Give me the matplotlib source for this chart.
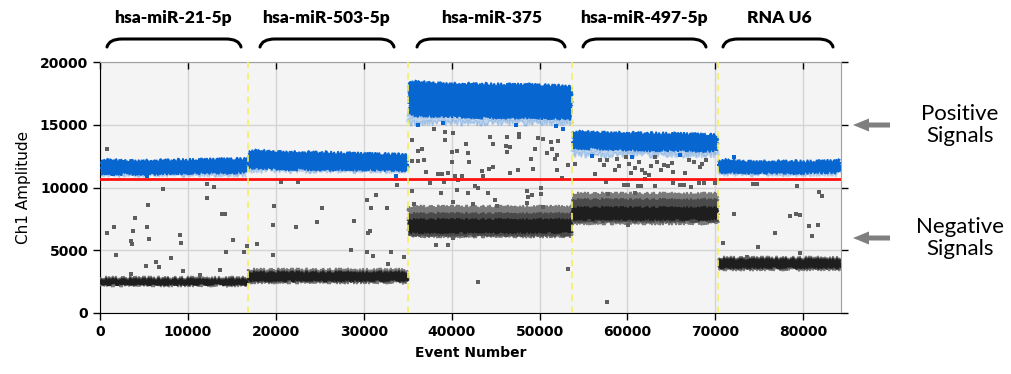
import matplotlib
matplotlib.use("Agg")
import matplotlib.pyplot as plt
from matplotlib.path import Path
from matplotlib.patches import PathPatch, FancyArrow
from matplotlib.transforms import IdentityTransform

# wells (targets) and where each one starts / ends in event number
well_names = ["hsa-miR-21-5p", "hsa-miR-503-5p", "hsa-miR-375", "hsa-miR-497-5p", "RNA U6"]
well_edges = [0, 16840, 35050, 53710, 70320, 84300]
threshold = 10650

# positive droplet band (outer edges), 5 knots per well
pos_hi = [[12150, 12100, 12150, 12200, 12250],
          [12900, 12800, 12750, 12650, 12600],
          [18400, 18250, 18200, 18150, 18050],
          [14400, 14350, 14300, 14250, 14150],
          [12150, 12050, 12050, 12050, 12100]]
pos_lo = [[11150, 11100, 11150, 11200, 11250],
          [11600, 11500, 11450, 11450, 11400],
          [15800, 15700, 15600, 15600, 15500],
          [13200, 13100, 13000, 13000, 12950],
          [11250, 11200, 11200, 11200, 11250]]
# sparse lower fringe of the positive band
pos_fringe = [11050, 11350, 15150, 12600, 11100]

# negative droplet band: outer (light), middle and dark core
neg_hi = [2800, 3400, 8450, 9500, 4350]
neg_lo = [2200, 2450, 6100, 7150, 3500]
mid_hi = [2720, 3300, 7900, 9000, 4280]
mid_lo = [2280, 2550, 6250, 7300, 3600]
core_hi = [2650, 3200, 7400, 8400, 4200]
core_lo = [2350, 2650, 6450, 7500, 3700]

# single droplets between/around the bands
gray_x = [760, 7200, 12140, 12970, 12140, 5430, 3980, 13850, 14200, 760, 1590, 5310, 3760,
          9140, 5540, 3490, 3600, 9250, 15100, 1860, 14300, 16420, 16690, 8040, 6370, 6750,
          5200, 9490, 13700, 3490, 11410,
          20600, 22570, 33800, 31400, 30350, 19800, 25300, 30800, 32660, 19690, 22300, 24690,
          28900, 30720, 30460, 17870, 19690, 28520, 30350, 31060, 33080, 34550, 32810,
          38010, 39260, 40200, 35500, 39260, 44380, 46280, 47720, 47720, 49880, 50370, 51320,
          52160, 41650, 44760, 46200, 46690, 51400, 36150, 36600, 40020, 40590, 41910, 46280,
          49500, 50830, 51970, 35540, 36150, 36830, 40020, 42020, 49000, 51780, 53220, 37100,
          38500, 38880, 39570, 40400, 41160, 43430, 44300, 44720, 43550, 46650, 47600, 49310,
          51970, 52540, 37550, 39180, 40770, 42670, 42980, 35540, 38800, 40660, 41910, 44190,
          48550, 49120, 48740, 50150, 50180, 44950, 45140, 40200, 42480, 48620, 50440, 35730,
          38230, 39560, 40200, 53220, 43050,
          56290, 56860, 57730, 57350, 58570, 59060, 59890, 60160, 60460, 60840, 61330, 61670,
          61970, 62740, 63120, 63420, 63870, 64180, 64640, 65120, 65200, 66530, 67020, 67590,
          68240, 68540, 68990, 54010, 58870, 62470, 57610, 59590, 60080, 61220, 61600, 61970,
          63120, 65200, 65960, 66410, 67290, 68120, 68690, 69940, 57800, 60840, 57650, 60080,
          74340, 74800, 79280, 81820, 82190, 72150, 78520, 79160, 79610, 80640, 81740, 80980,
          76810, 70930, 74910, 79650, 73660]
gray_y = [13040, 9850, 10250, 10020, 9190, 8580, 7570, 7890, 7890, 6400, 6830, 6830, 6560,
          6240, 5900, 5710, 5470, 5550, 5820, 4650, 4890, 4860, 5310, 4380, 4040, 3690,
          3720, 3370, 3450, 3130, 3030,
          10410, 10410, 10170, 9430, 8980, 8500, 8390, 8390, 8390, 6990, 6880, 7230,
          7310, 6560, 6350, 5520, 4650, 5050, 4860, 4510, 4860, 4460, 3880,
          14630, 14450, 14320, 13790, 13790, 14020, 14050, 14260, 14000, 13970, 13860, 13630,
          13680, 13470, 13440, 13310, 13200, 13040, 12930, 13040, 12850, 12930, 12720, 12850,
          13040, 12720, 12590, 12110, 12130, 12190, 12060, 12060, 12270, 12270, 11770, 11260,
          11050, 11050, 11180, 10940, 10940, 11310, 11450, 11610, 10920, 11180, 11420, 11500,
          11420, 10780, 10330, 10410, 10570, 10140, 9980, 9750, 9590, 9800, 9590, 9560,
          9720, 9400, 9270, 9460, 9980, 9000, 8530, 8820, 8690, 8740, 8470, 8690,
          5390, 5390, 5950, 3530, 2440,
          11080, 12190, 12190, 11790, 11390, 11710, 12410, 11870, 11180, 11530, 12030, 11390,
          11180, 11710, 12460, 12060, 11390, 11790, 11710, 11930, 11260, 11180, 12190, 12060,
          11660, 11870, 12190, 11850, 12250, 11000, 10410, 10170, 10170, 10140, 10140, 10650,
          10140, 10330, 10170, 10170, 10020, 10330, 10330, 10330, 9460, 9590, 850, 6990,
          10250, 10250, 10090, 9670, 9320, 7910, 7750, 7910, 7810, 6930, 6990, 6160,
          6400, 5580, 5230, 4760, 4490]

blue_x = [72150, 36200, 39000, 47300, 51900, 52700, 1500, 5300, 33700, 56000, 60500, 66000]
blue_y = [12460, 15000, 15100, 14950, 14900, 14700, 11050, 10950, 10950, 12500, 12450, 12550]

xticks = [0, 10000, 20000, 30000, 40000, 50000, 60000, 70000, 80000]
yticks = [0, 5000, 10000, 15000, 20000]


def band(ax, xs, lo, hi, color, z, alpha=1.0, rough=(2.0, 3.0, 2.0)):
    poly = ax.fill(list(xs) + list(xs[::-1]), list(hi) + list(lo[::-1]),
                   color=color, lw=1.2, alpha=alpha, zorder=z)[0]
    poly.set_sketch_params(*rough)
    return poly


W, H = 1012, 374
fig = plt.figure(figsize=(W / 100, H / 100), dpi=100)
ax = fig.add_axes([100 / W, 1 - 313 / H, 741 / W, 251 / H])
ax.set_facecolor("#f4f4f4")
ax.set_xlim(0, well_edges[-1])
ax.set_ylim(0, 20000)
ax.set_xticks(xticks)
ax.set_yticks(yticks)
ax.grid(True, color="#d4d4d4", lw=1)
ax.set_axisbelow(True)

blue = "#0866d0"
for i in range(5):
    x0, x1 = well_edges[i], well_edges[i + 1]
    kx = [x0 + 150 + (x1 - x0 - 300) * k / 4 for k in range(5)]
    # positive band: sparse fringe then solid body
    band(ax, kx, [pos_fringe[i]] * 5, pos_lo[i], blue, 2, alpha=0.22, rough=(3.0, 2.0, 3.0))
    band(ax, kx, pos_lo[i], pos_hi[i], blue, 3)
    # negative band: light outer, middle, dark core
    nx = [x0 + 150, x1 - 150]
    band(ax, nx, [neg_lo[i]] * 2, [neg_hi[i]] * 2, "#7a7a7a", 3, rough=(2.0, 2.5, 2.0))
    band(ax, nx, [mid_lo[i]] * 2, [mid_hi[i]] * 2, "#4a4a4a", 4, rough=(1.5, 2.5, 2.0))
    band(ax, nx, [core_lo[i]] * 2, [core_hi[i]] * 2, "#1e1e1e", 4, rough=(1.5, 2.5, 2.0))

ax.scatter(gray_x, gray_y, s=5, marker="s", color="#5e5e5e", lw=0, zorder=5)
ax.scatter(blue_x, blue_y, s=6, marker="s", color=blue, lw=0, zorder=5)

ax.axhline(threshold, color="#ff1010", lw=2, zorder=6)
for xe in well_edges[1:-1]:
    ax.axvline(xe, color="#f5f060", lw=1.2, ls=(0, (4, 3)), zorder=6)

ax.tick_params(length=5, width=1, color="black", labelsize=10, top=True, right=True)
for lab in ax.get_xticklabels() + ax.get_yticklabels():
    lab.set_fontweight("bold")
for t in ax.xaxis.get_major_ticks():
    t.tick2line.set_marker(3)   # inward on top
for t in ax.yaxis.get_major_ticks():
    t.tick2line.set_marker(1)   # inward on right
ax.spines["left"].set_color("black")
ax.spines["bottom"].set_color("black")
ax.spines["top"].set_color("#a0a0a0")
ax.spines["right"].set_color("#a0a0a0")
ax.set_xlabel("Event Number", fontsize=10, fontweight="bold", labelpad=5)
ax.set_ylabel("Ch1 Amplitude", fontsize=11, labelpad=6)

# brackets and target names on top (pixel coordinates)
ident = IdentityTransform()
brackets = [(107, 241), (260, 394), (417, 565), (583, 706), (723, 833)]
label_x = [173, 326, 492, 644, 779]
for (bx0, bx1), lx, name in zip(brackets, label_x, well_names):
    yb, yt = H - 47, H - 39
    verts = [(bx0, yb), (bx0 + 2, yt), (bx0 + 15, yt), (bx1 - 15, yt), (bx1 - 2, yt), (bx1, yb)]
    codes = [Path.MOVETO, Path.CURVE3, Path.CURVE3, Path.LINETO, Path.CURVE3, Path.CURVE3]
    fig.patches.append(PathPatch(Path(verts, codes), transform=ident, fill=False,
                                 lw=2.2, color="black", capstyle="round"))
    fig.text(lx / W, 1 - 18 / H, name, ha="center", va="center", fontsize=12.5,
             fontweight="heavy", family="Lato")

# arrows + notes on the right
for ay, txt in [(125, "Positive\nSignals"), (238, "Negative\nSignals")]:
    fig.patches.append(FancyArrow(890, H - ay, -37, 0, width=5, head_width=13,
                                  head_length=16, length_includes_head=True,
                                  transform=ident, color="#7f7f7f", lw=0))
    fig.text(960 / W, 1 - ay / H, txt, ha="center", va="center", fontsize=16,
             family="Lato", linespacing=1.1)

fig.savefig("out.png", dpi=100)
